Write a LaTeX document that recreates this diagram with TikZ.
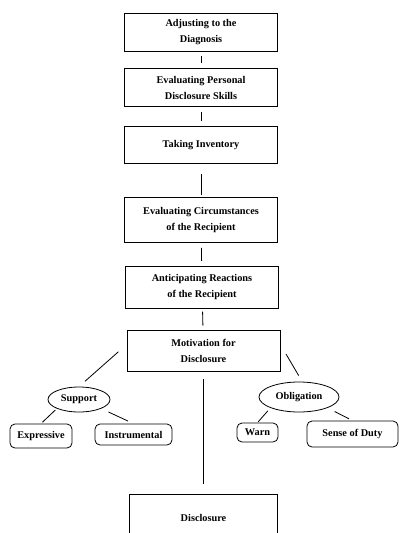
\documentclass[tikz,border=0pt]{standalone}
\usepackage{fontspec}
\setmainfont{Liberation Serif}
\usetikzlibrary{positioning}
\usetikzlibrary{shapes.geometric}

\begin{document}
\begin{tikzpicture}[-,x=1pt,y=1pt,auto,node distance=20pt,line width=0.8pt,
                    font=\bfseries\fontsize{10.3}{16}\selectfont,
                    main node/.style={rectangle,draw,minimum width=153pt,minimum height=38pt,align=center,inner sep=2pt},
                    leaf node/.style={rectangle,draw,rounded corners=5pt,minimum height=22pt,inner sep=2pt},
                    group node/.style={ellipse,draw,inner sep=0pt},
                    link/.style={shorten <=5pt,shorten >=5pt}]

  \useasboundingbox (0,0) rectangle (400,-533);
  \clip (0,0) rectangle (400,-533);

  \node[main node] (1) at (201,-32) {Adjusting to the\\Diagnosis};
  \node[main node] (2) [below=17pt of 1] {Evaluating Personal\\Disclosure Skills};
  \node[main node,minimum height=37pt] (3) [below=19pt of 2] {Taking Inventory};
  \node[main node,minimum height=45pt] (4) [below=33pt of 3] {Evaluating Circumstances\\of the Recipient};
  \node[main node,minimum height=42pt,xshift=1pt] (5) [below=23pt of 4] {Anticipating Reactions\\of the Recipient};
  \node[main node,minimum height=41pt,xshift=1.5pt] (6) [below=21pt of 5] {Motivation for\\Disclosure};
  \node[main node,minimum width=148pt,minimum height=46pt] (7) [below=123pt of 6] {Disclosure};

  \node[group node,minimum width=62pt,minimum height=25pt] (s) at (79,-399.5) {Support};
  \node[group node,minimum width=80pt,minimum height=30pt] (o) at (299,-397) {Obligation};

  \node[leaf node,minimum width=62pt,minimum height=24pt] (s1) at (41,-436) {Expressive};
  \node[leaf node,minimum width=77pt,minimum height=21pt] (s2) at (133.5,-434.5) {Instrumental};
  \node[leaf node,minimum width=41pt,minimum height=19pt] (o1) at (257.5,-432.5) {Warn};
  \node[leaf node,minimum width=91pt,minimum height=26pt] (o2) at (352.5,-434) {Sense of Duty};

  \path[link]
    (1) edge (2)
    (2) edge (3)
    (3) edge [shorten <=10pt,shorten >=2pt] (4)
    (4) edge (5)
    (5) edge [shorten <=3pt,shorten >=4pt] (6)
    (6) edge [shorten <=8pt,shorten >=10pt] (7)
    ([yshift=6pt]6.west) edge [shorten <=11pt,shorten >=8pt] (s.north)
    ([yshift=6pt]6.east) edge [shorten <=11pt,shorten >=7pt] (o.78)
    (s.south west) edge [shorten <=2pt,shorten >=2pt] (s1.north)
    (s.south east) edge [shorten <=8pt,shorten >=6pt] (s2.north)
    (o.south west) edge [shorten <=4pt,shorten >=1pt] (o1.north)
    (o.south east) edge [shorten <=8pt,shorten >=4pt] (o2.north)
;
\end{tikzpicture}
\end{document}
